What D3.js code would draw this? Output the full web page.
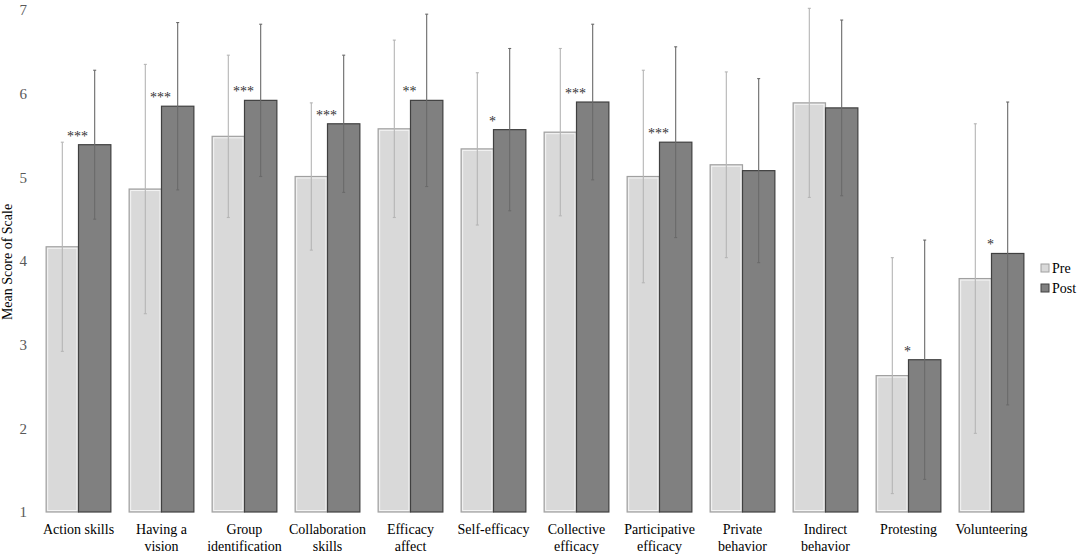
<!DOCTYPE html>
<html>
<head>
<meta charset="utf-8">
<script src="https://cdn.jsdelivr.net/npm/d3@7"></script>
<style>
  body { margin: 0; background: #fff; }
  svg { display: block; font-family: "Liberation Serif", "Times New Roman", serif; }
</style>
</head>
<body>
<div id="chart"></div>
<script>
const categories = ['Action skills', 'Having a vision', 'Group identification', 'Collaboration skills',
    'Efficacy affect', 'Self-efficacy', 'Collective efficacy', 'Participative efficacy',
    'Private behavior', 'Indirect behavior', 'Protesting', 'Volunteering']
const labelLines = [['Action skills'], ['Having a', 'vision'], ['Group', 'identification'], ['Collaboration', 'skills'],
    ['Efficacy', 'affect'], ['Self-efficacy'], ['Collective', 'efficacy'], ['Participative', 'efficacy'],
    ['Private', 'behavior'], ['Indirect', 'behavior'], ['Protesting'], ['Volunteering']]
const preMean = [4.17, 4.86, 5.49, 5.01, 5.58, 5.34, 5.54, 5.01, 5.15, 5.89, 2.63, 3.79]
const postMean = [5.39, 5.85, 5.92, 5.64, 5.92, 5.57, 5.90, 5.42, 5.08, 5.83, 2.82, 4.09]
const preSD = [1.25, 1.49, 0.97, 0.88, 1.06, 0.91, 1.00, 1.27, 1.11, 1.13, 1.41, 1.85]
const postSD = [0.89, 1.0, 0.91, 0.82, 1.03, 0.97, 0.93, 1.14, 1.10, 1.05, 1.43, 1.81]
const stars = ['***', '***', '***', '***', '**', '*', '***', '***', '', '', '*', '*']
const yTicks = [1, 2, 3, 4, 5, 6, 7]
const series = ['Pre', 'Post']

const width = 1084, height = 559
const svg = d3.select('#chart').append('svg').attr('width', width).attr('height', height)

const x = d3.scaleBand().domain(categories).range([37, 1033]).paddingInner(0.22).paddingOuter(0.11)
const xs = d3.scaleBand().domain(series).range([0, x.bandwidth()])
const y = d3.scaleLinear().domain([1, 7]).range([512, 10])

// y tick labels (no axis line)
const yAxis = svg.append('g').attr('transform', 'translate(27,0)').
    call(d3.axisLeft(y).tickValues(yTicks).tickFormat(d3.format('d')).tickSize(0).tickPadding(0))
yAxis.select('.domain').remove()
yAxis.attr('font-family', null).attr('font-size', null)
yAxis.selectAll('text').attr('font-size', 15).attr('fill', '#595959')

svg.append('text').
    attr('transform', 'translate(12,262) rotate(-90)').
    attr('text-anchor', 'middle').
    attr('font-size', 14).
    text('Mean Score of Scale')

const rows = categories.map((c, i) => ({
    cat: c, i,
    vals: [
        { s: 'Pre', m: preMean[i], sd: preSD[i] },
        { s: 'Post', m: postMean[i], sd: postSD[i] }]
}))

const groups = svg.selectAll('g.grp').data(rows).enter().append('g').
    attr('class', 'grp').
    attr('transform', (d) => `translate(${x(d.cat)},0)`)

const bars = groups.selectAll('g.bar').data((d) => d.vals).enter().append('g').attr('class', 'bar')

bars.append('rect').
    attr('x', (d) => xs(d.s)).
    attr('y', (d) => y(d.m)).
    attr('width', xs.bandwidth()).
    attr('height', (d) => y(1) - y(d.m)).
    attr('fill', (d) => d.s === 'Pre' ? '#d9d9d9' : '#808080').
    attr('stroke', (d) => d.s === 'Pre' ? '#a0a0a0' : '#404040').
    attr('stroke-width', 1.2)

// inner highlight on the light bars
bars.filter((d) => d.s === 'Pre').append('rect').
    attr('x', (d) => xs(d.s) + 1.5).
    attr('y', (d) => y(d.m) + 1.5).
    attr('width', xs.bandwidth() - 3).
    attr('height', (d) => y(1) - y(d.m) - 3).
    attr('fill', 'none').
    attr('stroke', '#f4f4f4').
    attr('stroke-width', 1)

// error bars
const err = bars.append('g').attr('stroke', (d) => d.s === 'Pre' ? '#b5b5b5' : '#6a6a6a').attr('stroke-width', 1.1)
const cx = (d) => xs(d.s) + xs.bandwidth() / 2
err.append('line').
    attr('x1', cx).attr('x2', cx).
    attr('y1', (d) => y(d.m + d.sd)).attr('y2', (d) => y(d.m - d.sd))
err.append('line').
    attr('x1', (d) => cx(d) - 1.5).attr('x2', (d) => cx(d) + 1.5).
    attr('y1', (d) => y(d.m + d.sd)).attr('y2', (d) => y(d.m + d.sd))
err.append('line').
    attr('x1', (d) => cx(d) - 1.5).attr('x2', (d) => cx(d) + 1.5).
    attr('y1', (d) => y(d.m - d.sd)).attr('y2', (d) => y(d.m - d.sd))

// significance stars
groups.append('text').
    attr('x', x.bandwidth() / 2 - 1).
    attr('y', (d) => y(postMean[d.i]) - 4).
    attr('text-anchor', 'middle').
    attr('font-size', 14).
    attr('fill', '#333').
    text((d) => stars[d.i])

// category labels
const lab = groups.append('text').
    attr('text-anchor', 'middle').
    attr('font-size', 14).
    attr('fill', '#000')
lab.selectAll('tspan').data((d) => labelLines[d.i]).enter().append('tspan').
    attr('x', x.bandwidth() / 2).
    attr('y', (d, k) => 534 + k * 17).
    text((d) => d)

// legend
const leg = svg.append('g').attr('transform', 'translate(1045,0)')
const legItems = leg.selectAll('g').data(series).enter().append('g').
    attr('transform', (d, k) => `translate(0,${268 + k * 20})`)
legItems.append('rect').
    attr('x', -4).attr('y', -4).attr('width', 8).attr('height', 8).
    attr('fill', (d) => d === 'Pre' ? '#d9d9d9' : '#808080').
    attr('stroke', (d) => d === 'Pre' ? '#a0a0a0' : '#404040')
legItems.append('text').
    attr('x', 7).attr('y', 5).
    attr('font-size', 14).
    text((d) => d)
</script>
</body>
</html>
